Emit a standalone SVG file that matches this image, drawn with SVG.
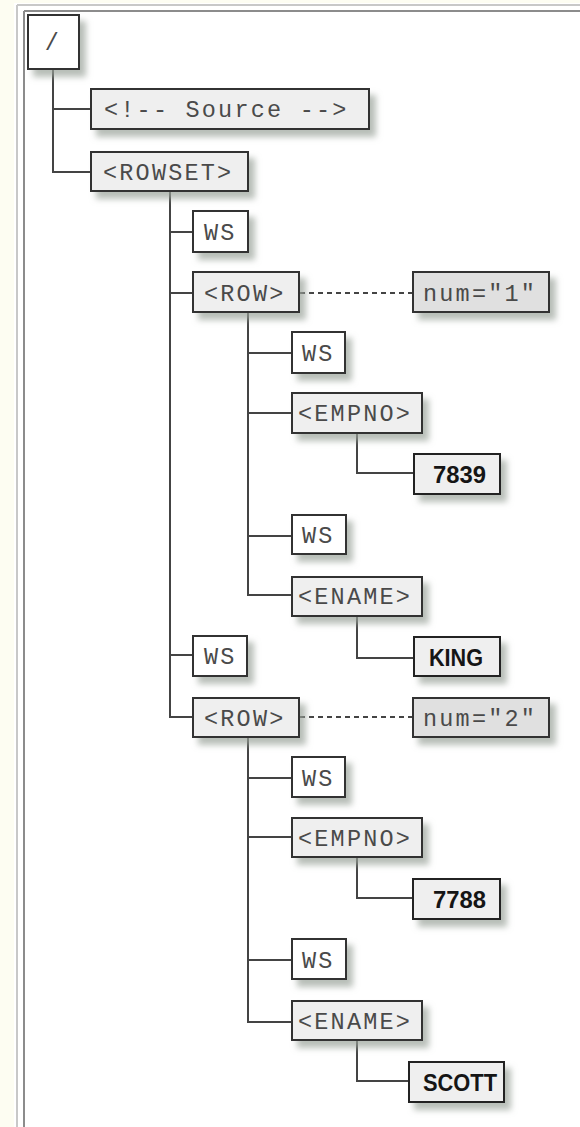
<svg xmlns="http://www.w3.org/2000/svg" width="580" height="1127" viewBox="0 0 580 1127">
<defs>
<filter id="sh" x="-20%" y="-30%" width="160%" height="190%">
<feOffset in="SourceAlpha" dx="6" dy="7" result="o"/>
<feGaussianBlur in="o" stdDeviation="3" result="b"/>
<feFlood flood-color="#9aa39a" flood-opacity="0.7"/>
<feComposite in2="b" operator="in" result="s"/>
<feMerge><feMergeNode in="s"/><feMergeNode in="SourceGraphic"/></feMerge>
</filter>
<style>
.el rect{fill:#efefef;stroke:#333;stroke-width:2}
.ws rect{fill:#fff;stroke:#333;stroke-width:2}
.at rect{fill:#e0e0e0;stroke:#333;stroke-width:2}
.val rect{fill:#efefef;stroke:#222;stroke-width:2}
.box{filter:url(#sh)}
.m{font-family:"Liberation Mono","DejaVu Sans Mono",monospace;font-size:23.5px;letter-spacing:2.2px;fill:#4a4a4a}
.b{font-family:"Liberation Sans",Arial,sans-serif;font-weight:bold;font-size:24px;fill:#151515}
.c{fill:none;stroke:#444;stroke-width:2}
.d{fill:none;stroke:#444;stroke-width:2;stroke-dasharray:5 4}
</style>
</defs>
<rect x="0" y="0" width="580" height="1127" fill="#ffffff"/>
<rect x="0" y="0" width="14" height="1127" fill="#fdfdf2"/>
<rect x="0" y="0" width="580" height="3" fill="#fdfdf2"/>
<path d="M17 5 H580 M17 5 V1127" fill="none" stroke="#c8c8c8" stroke-width="2"/>
<path d="M24 11 H580 M24 11 V1127" fill="none" stroke="#8c8c8c" stroke-width="2"/>

<g id="connectors">
<path class="c" d="M53 69 V172 H91 M53 109 H91"/>
<path class="c" d="M170 191 V717 H193 M170 232 H193 M170 293 H193 M170 655 H193"/>
<path class="c" d="M248 312 V595 H292 M248 353 H292 M248 413 H292 M248 536 H292"/>
<path class="c" d="M357 433 V473 H414"/>
<path class="c" d="M357 616 V658 H414"/>
<path class="c" d="M248 737 V1022 H292 M248 778 H292 M248 837 H292 M248 960 H292"/>
<path class="c" d="M357 857 V898 H413"/>
<path class="c" d="M357 1040 V1081 H409"/>
<path class="d" d="M300 293 H413"/>
<path class="d" d="M300 717 H413"/>
</g>

<g id="root" class="ws"><rect class="box" x="28" y="15" width="51" height="54"/><text class="m" x="53" y="50" text-anchor="middle" letter-spacing="0">/</text></g>
<g id="comment" class="el"><rect class="box" x="91" y="89" width="278" height="40"/><text class="m" x="104" y="117">&lt;!-- Source --&gt;</text></g>
<g id="rowset" class="el"><rect class="box" x="91" y="152" width="157" height="39"/><text class="m" x="103" y="180">&lt;ROWSET&gt;</text></g>
<g id="ws1" class="ws"><rect class="box" x="193" y="211" width="55" height="41"/><text class="m" x="204" y="240">WS</text></g>
<g id="row1" class="el"><rect class="box" x="193" y="272" width="106" height="40"/><text class="m" x="204" y="301">&lt;ROW&gt;</text></g>
<g id="num1" class="at"><rect class="box" x="413" y="272" width="136" height="40"/><text class="m" x="423" y="301">num="1"</text></g>
<g id="ws2" class="ws"><rect class="box" x="292" y="332" width="53" height="41"/><text class="m" x="302" y="361">WS</text></g>
<g id="empno1" class="el"><rect class="box" x="292" y="393" width="130" height="40"/><text class="m" x="298" y="421">&lt;EMPNO&gt;</text></g>
<g id="v7839" class="val"><rect class="box" x="414" y="454" width="86" height="40"/><text class="b" x="433" y="483" textLength="53" lengthAdjust="spacingAndGlyphs">7839</text></g>
<g id="ws3" class="ws"><rect class="box" x="292" y="515" width="54" height="39"/><text class="m" x="302" y="543">WS</text></g>
<g id="ename1" class="el"><rect class="box" x="292" y="577" width="130" height="39"/><text class="m" x="298" y="604">&lt;ENAME&gt;</text></g>
<g id="vking" class="val"><rect class="box" x="414" y="637" width="86" height="39"/><text class="b" x="429" y="666" textLength="54" lengthAdjust="spacingAndGlyphs">KING</text></g>
<g id="ws4" class="ws"><rect class="box" x="193" y="636" width="54" height="40"/><text class="m" x="204" y="664">WS</text></g>
<g id="row2" class="el"><rect class="box" x="193" y="698" width="106" height="39"/><text class="m" x="204" y="726">&lt;ROW&gt;</text></g>
<g id="num2" class="at"><rect class="box" x="413" y="698" width="136" height="39"/><text class="m" x="423" y="726">num="2"</text></g>
<g id="ws5" class="ws"><rect class="box" x="292" y="757" width="53" height="40"/><text class="m" x="302" y="786">WS</text></g>
<g id="empno2" class="el"><rect class="box" x="292" y="818" width="130" height="39"/><text class="m" x="298" y="846">&lt;EMPNO&gt;</text></g>
<g id="v7788" class="val"><rect class="box" x="413" y="879" width="87" height="40"/><text class="b" x="433" y="908" textLength="53" lengthAdjust="spacingAndGlyphs">7788</text></g>
<g id="ws6" class="ws"><rect class="box" x="292" y="939" width="54" height="40"/><text class="m" x="302" y="968">WS</text></g>
<g id="ename2" class="el"><rect class="box" x="292" y="1001" width="130" height="39"/><text class="m" x="298" y="1029">&lt;ENAME&gt;</text></g>
<g id="vscott" class="val"><rect class="box" x="409" y="1062" width="95" height="40"/><text class="b" x="423" y="1091" textLength="74" lengthAdjust="spacingAndGlyphs">SCOTT</text></g>
</svg>
